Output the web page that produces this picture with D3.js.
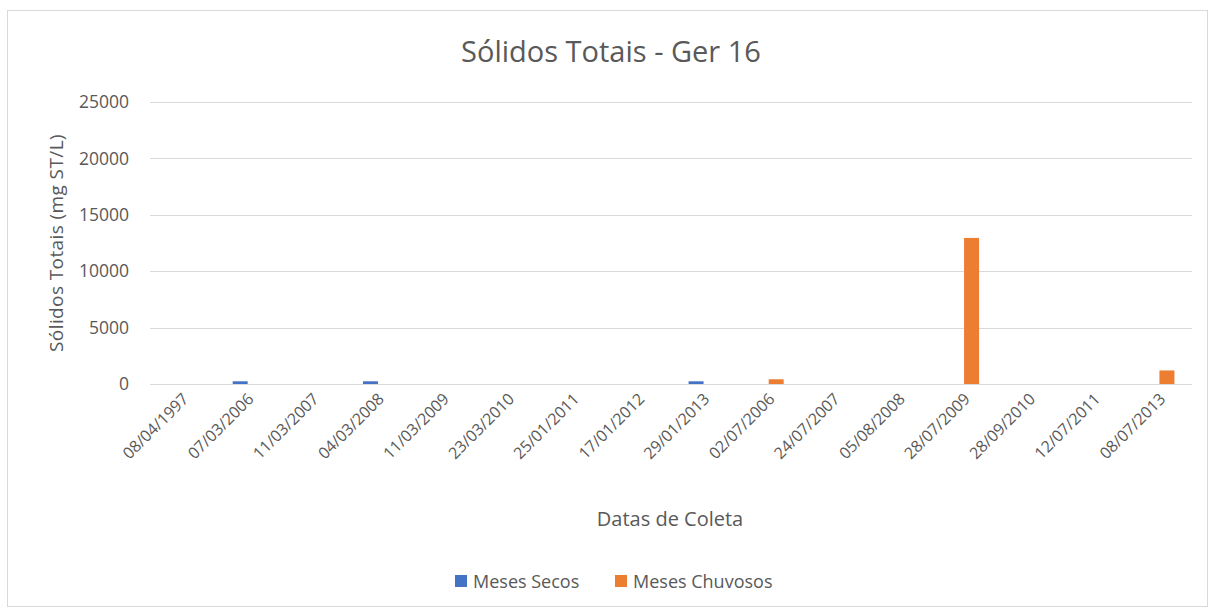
<!DOCTYPE html>
<html><head><meta charset="utf-8">
<script src="https://cdn.jsdelivr.net/npm/d3@7"></script>
<style>body{margin:0;background:#fff;} text{font-family:"Open Sans",sans-serif;}</style>
</head><body>
<svg id="c" width="1215" height="609"></svg>
<script>
const categories = ["08/04/1997","07/03/2006","11/03/2007","04/03/2008","11/03/2009","23/03/2010","25/01/2011","17/01/2012","29/01/2013","02/07/2006","24/07/2007","05/08/2008","28/07/2009","28/09/2010","12/07/2011","08/07/2013"];
const mesesSecos = [0,240,0,240,0,0,0,0,240,null,null,null,null,null,null,null];
const mesesChuvosos = [null,null,null,null,null,null,null,null,null,420,0,0,12950,0,0,1200];
const yTicks = [0,5000,10000,15000,20000,25000];
const seriesNames = ["Meses Secos","Meses Chuvosos"];
const colors = ["#4472C4","#ED7D31"];

const svg = d3.select("#c");
svg.append("rect").attr("x",7.5).attr("y",10.5).attr("width",1200).attr("height",596).attr("fill","#fff").attr("stroke","#d9d9d9");

const m = {l:150,r:1192,t:102,b:384};
const x = d3.scaleBand().domain(categories).range([m.l,m.r]).paddingInner(0).paddingOuter(0);
const barW = x.bandwidth()*0.23;
const y = d3.scaleLinear().domain([0,25000]).range([m.b,m.t]);

// gridlines
svg.append("g").selectAll("line").data(yTicks).join("line")
  .attr("x1",m.l).attr("x2",m.r).attr("y1",d=>Math.round(y(d))+0.5).attr("y2",d=>Math.round(y(d))+0.5)
  .attr("stroke","#d9d9d9").attr("stroke-width",1);

// y axis labels
const yAxis = d3.axisLeft(y).tickValues(yTicks).tickSize(0).tickPadding(21).tickFormat(d3.format("d"));
const ya = svg.append("g").attr("transform",`translate(${m.l},0)`).call(yAxis);
ya.select(".domain").remove();
ya.selectAll("text").attr("fill","#595959").style("font-size","17.5px").style("font-family","'Open Sans',sans-serif");

// bars
const series = [mesesSecos, mesesChuvosos];
series.forEach((vals,si)=>{
  svg.append("g").selectAll("rect").data(categories.map((c,i)=>({c,v:vals[i]})).filter(d=>d.v!=null && d.v>0))
    .join("rect")
    .attr("x",d=>x(d.c)+x.bandwidth()/2 + (si===0?-barW:0))
    .attr("width",barW)
    .attr("y",d=>y(d.v)).attr("height",d=>y(0)-y(d.v))
    .attr("fill",colors[si]);
});

// x axis
const xAxis = d3.axisBottom(x).tickSize(0).tickPadding(0);
const xa = svg.append("g").attr("transform",`translate(0,${m.b})`).call(xAxis);
xa.select(".domain").remove();
xa.selectAll("text").attr("fill","#595959").style("font-size","16px").style("font-family","'Open Sans',sans-serif")
  .attr("text-anchor","end").attr("dy",null).attr("y",0)
  .attr("transform","translate(7,16) rotate(-45)");

// title
svg.append("text").attr("x",611).attr("y",62).attr("text-anchor","middle").attr("fill","#595959")
  .style("font-size","29px").text("Sólidos Totais - Ger 16");
// y title
svg.append("text").attr("transform","translate(63,243) rotate(-90)").attr("text-anchor","middle").attr("fill","#595959")
  .style("font-size","19px").style("letter-spacing","0.4px").text("Sólidos Totais (mg ST/L)");
// x title
svg.append("text").attr("x",670).attr("y",526).attr("text-anchor","middle").attr("fill","#595959")
  .style("font-size","20px").text("Datas de Coleta");

// legend
const lg = svg.append("g");
const lx = [455,615];
seriesNames.forEach((n,i)=>{
  lg.append("rect").attr("x",lx[i]).attr("y",575).attr("width",12).attr("height",12).attr("fill",colors[i]);
  lg.append("text").attr("x",lx[i]+18).attr("y",588).attr("fill","#595959").style("font-size","18px").text(n);
});
</script>
</body></html>
